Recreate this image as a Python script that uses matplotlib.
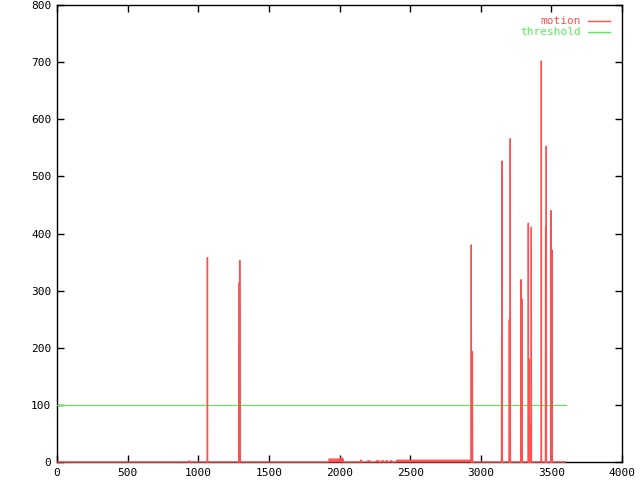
import numpy as np
import matplotlib
matplotlib.use("Agg")
import matplotlib.pyplot as plt

# Data (frame index, motion value)
spike_frames = [937, 1065, 1290, 1291, 1293, 1294, 2933, 2940, 2941,
                3148, 3149, 3152, 3202, 3203, 3209, 3285, 3291, 3292,
                3337, 3342, 3343, 3350, 3352, 3358, 3429, 3459, 3460,
                3464, 3497, 3503, 3504, 3505]
spike_values = [2, 358, 314, 314, 353, 353, 380, 193, 193,
                218, 218, 527, 249, 249, 566, 319, 285, 285,
                418, 180, 180, 67, 67, 411, 702, 411, 411,
                553, 440, 371, 371, 371]

# low-level stretches: (start frame, end frame, level)
seg_start = [1926, 2005, 2150, 2200, 2260, 2300, 2330, 2360, 2405]
seg_end   = [2027, 2020, 2156, 2215, 2280, 2312, 2340, 2372, 2930]
seg_level = [5,    7,    3,    2,    2,    2,    2,    2,    3]

n_frames = 3600
threshold = 100

motion = np.zeros(n_frames)
for s, e, v in zip(seg_start, seg_end, seg_level):
    motion[s:e] = v
for f, v in zip(spike_frames, spike_values):
    motion[f] = v
frames = np.arange(n_frames)

red = '#ff4f4f'
green = '#55ee55'

fig = plt.figure(figsize=(6.4, 4.8), dpi=100)
ax = fig.add_axes([57/640, 18/480, 565/640, 457/480])
ax.fill_between(frames, 0, motion, color=red, lw=0, zorder=5)
ax.plot(frames, motion, color=red, lw=1.0, zorder=5, clip_on=False)
ax.plot([0, n_frames], [threshold, threshold], color=green, lw=0.8, zorder=4)

ax.set_xlim(0, 4000)
ax.set_ylim(0, 800)
ax.set_xticks(np.arange(0, 4001, 500))
ax.set_yticks(np.arange(0, 801, 100))
ax.tick_params(direction='in', length=5, width=1, top=True, right=True,
               labelsize=8, pad=4)
for lab in ax.get_xticklabels() + ax.get_yticklabels():
    lab.set_family('DejaVu Sans Mono')
for sp in ax.spines.values():
    sp.set_linewidth(1)

# legend in gnuplot style
fig.text(581/640, 1 - 21/480, 'motion', color=red, ha='right', va='center',
         family='DejaVu Sans Mono', fontsize=8)
fig.text(581/640, 1 - 32/480, 'threshold', color=green, ha='right', va='center',
         family='DejaVu Sans Mono', fontsize=8)
fig.add_artist(plt.Line2D([588/640, 610/640], [1 - 21/480, 1 - 21/480], color=red, lw=1))
fig.add_artist(plt.Line2D([588/640, 610/640], [1 - 32/480, 1 - 32/480], color=green, lw=1))

fig.savefig('out.png', dpi=100)
